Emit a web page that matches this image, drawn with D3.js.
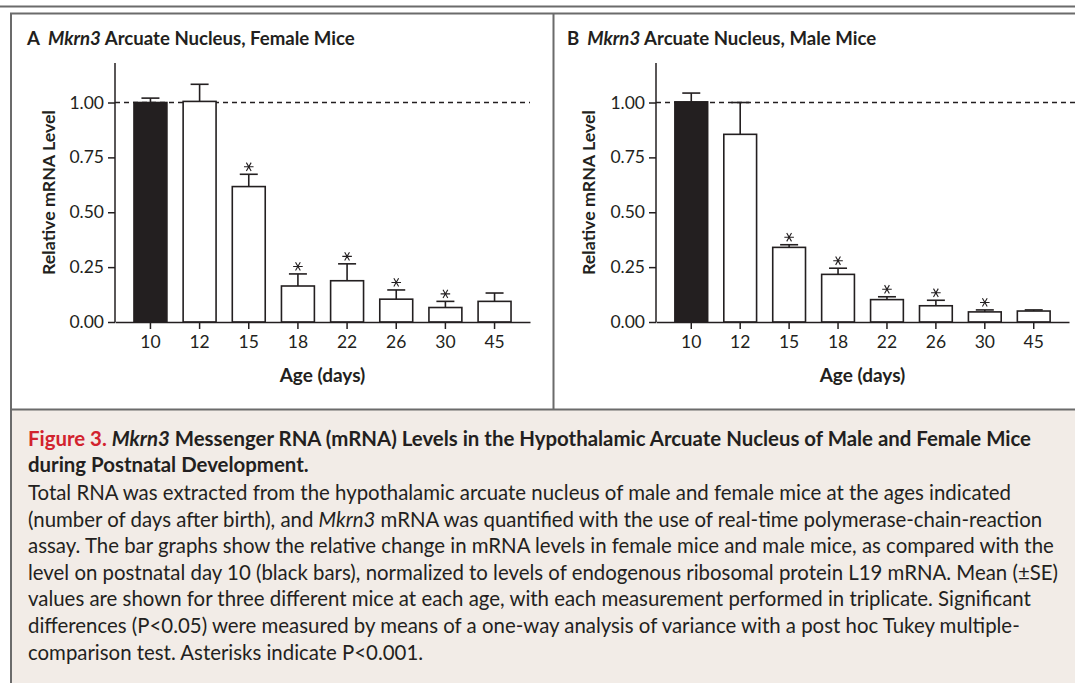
<!DOCTYPE html>
<html>
<head>
<meta charset="utf-8">
<script src="https://cdn.jsdelivr.net/npm/d3@7/dist/d3.min.js"></script>
<style>
  html, body { margin: 0; padding: 0; background: #ffffff; }
  svg { display: block; }
</style>
</head>
<body>
<svg id="chart" width="1075" height="683"></svg>
<script>
// ---------- data ----------
const ages = ["10", "12", "15", "18", "22", "26", "30", "45"];
const femaleMean = [1.000, 1.005, 0.617, 0.164, 0.188, 0.104, 0.066, 0.094];
const femaleSE   = [0.020, 0.078, 0.056, 0.055, 0.077, 0.042, 0.028, 0.038];
const femaleSig  = [false, false, true, true, true, true, true, false];
const maleMean   = [1.003, 0.855, 0.340, 0.217, 0.102, 0.074, 0.046, 0.050];
const maleSE     = [0.040, 0.145, 0.012, 0.028, 0.013, 0.025, 0.009, 0.005];
const maleSig    = [false, false, true, true, true, true, true, false];
const yTicks = [0, 0.25, 0.5, 0.75, 1.0];
const panelTitles = ["Arcuate Nucleus, Female Mice", "Arcuate Nucleus, Male Mice"];
const panelLetters = ["A", "B"];

// ---------- styles ----------
const FONT = "Lato, 'Open Sans', sans-serif";
const INK = "#231f20";
const FRAME = "#6b6b6b";

const svg = d3.select("#chart");
svg.append("rect").attr("x", 0).attr("y", 0).attr("width", 1075).attr("height", 683).attr("fill", "#ffffff");

// caption background
svg.append("rect").attr("x", 10).attr("y", 410).attr("width", 1065).attr("height", 273).attr("fill", "#f2ece7");

// frame
const frame = svg.append("g").attr("stroke", FRAME).attr("fill", "none");
frame.append("line").attr("x1", 0).attr("x2", 1075).attr("y1", 6.5).attr("y2", 6.5).attr("stroke-width", 2.2);
frame.append("line").attr("x1", 10).attr("x2", 1075).attr("y1", 13.5).attr("y2", 13.5).attr("stroke-width", 2);
frame.append("line").attr("x1", 11).attr("x2", 11).attr("y1", 13).attr("y2", 683).attr("stroke-width", 2);
frame.append("line").attr("x1", 553.5).attr("x2", 553.5).attr("y1", 13).attr("y2", 410).attr("stroke-width", 2);
frame.append("line").attr("x1", 10).attr("x2", 1075).attr("y1", 409.5).attr("y2", 409.5).attr("stroke-width", 2);

// ---------- panels ----------
const panels = [
  { letter: panelLetters[0], title: panelTitles[0], mean: femaleMean, se: femaleSE, sig: femaleSig,
    x0: 115, x1: 530, dashEnd: 530, titleX: 27, yTitleX: 47.5 },
  { letter: panelLetters[1], title: panelTitles[1], mean: maleMean, se: maleSE, sig: maleSig,
    x0: 656, x1: 1069, dashEnd: 1075, titleX: 567, yTitleX: 588 }
];

const y = d3.scaleLinear().domain([0, 1.18]).range([322, 63]);
const star = d3.symbol().type(d3.symbolAsterisk).size(64);

panels.forEach(p => {
  const g = svg.append("g");
  const x = d3.scaleBand().domain(ages).range([p.x0, p.x1]).paddingInner(0.33).paddingOuter(0.386);

  // title
  const t = g.append("text").attr("x", p.titleX).attr("y", 45)
    .attr("font-family", FONT).attr("font-size", 18.6).attr("font-weight", "bold").attr("fill", INK);
  t.append("tspan").text(p.letter);
  t.append("tspan").attr("dx", 8).attr("font-style", "italic").text("Mkrn3");
  t.append("tspan").text(" " + p.title);

  // reference dashed line at 1.00
  g.append("line").attr("x1", p.x0).attr("x2", p.dashEnd).attr("y1", y(1)).attr("y2", y(1))
    .attr("stroke", INK).attr("stroke-width", 1.3).attr("stroke-dasharray", "5,4");

  // error bars
  const eb = g.append("g").attr("stroke", INK).attr("stroke-width", 1.6);
  ages.forEach((a, i) => {
    const cx = x(a) + x.bandwidth() / 2;
    const top = y(p.mean[i] + p.se[i]);
    eb.append("line").attr("x1", cx).attr("x2", cx).attr("y1", y(p.mean[i])).attr("y2", top);
    eb.append("line").attr("x1", cx - 9).attr("x2", cx + 9).attr("y1", top).attr("y2", top);
  });

  // bars
  g.append("g").selectAll("rect").data(ages).join("rect")
    .attr("x", d => x(d))
    .attr("y", (d, i) => y(p.mean[i]))
    .attr("width", x.bandwidth())
    .attr("height", (d, i) => y(0) - y(p.mean[i]))
    .attr("fill", (d, i) => i === 0 ? INK : "#ffffff")
    .attr("stroke", INK).attr("stroke-width", 1.6);

  // asterisks
  g.append("g").selectAll("path").data(ages.filter((d, i) => p.sig[i])).join("path")
    .attr("transform", d => {
      const i = ages.indexOf(d);
      return `translate(${x(d) + x.bandwidth() / 2},${y(p.mean[i] + p.se[i]) - 7.5}) rotate(90)`;
    })
    .attr("d", star).attr("fill", "none").attr("stroke", INK).attr("stroke-width", 1.1);

  // axes
  const yAxis = g.append("g").attr("transform", `translate(${p.x0},0)`)
    .call(d3.axisLeft(y).tickValues(yTicks).tickFormat(d3.format(".2f")).tickSize(7).tickSizeOuter(0).tickPadding(4));
  const xAxis = g.append("g").attr("transform", `translate(0,${y(0)})`)
    .call(d3.axisBottom(x).tickSize(7).tickSizeOuter(0).tickPadding(7));
  [yAxis, xAxis].forEach(ax => {
    ax.selectAll("path, line").attr("stroke", INK).attr("stroke-width", 1.5);
    ax.selectAll("text").attr("font-family", FONT).attr("font-size", 17.5).attr("fill", INK);
  });
  // extend y axis line to top of domain
  yAxis.select("path.domain").attr("d", `M0,${y(0)}V${y(1.18)}`);

  // axis titles
  g.append("text").attr("x", (p.x0 + p.x1) / 2).attr("y", 382).attr("text-anchor", "middle")
    .attr("font-family", FONT).attr("font-size", 19).attr("font-weight", "bold").attr("fill", INK)
    .text("Age (days)");
  g.append("text").attr("transform", `translate(${p.yTitleX},${(y(0) + y(1.18)) / 2}) rotate(-90)`)
    .attr("text-anchor", "middle").attr("dominant-baseline", "central")
    .attr("font-family", FONT).attr("font-size", 17.8).attr("font-weight", "bold").attr("fill", INK)
    .text("Relative mRNA Level");
});

// ---------- caption ----------
const capTitle = [
  [{ t: "Figure 3. ", c: "#d2232e" }, { t: "Mkrn3", i: true }, { t: " Messenger RNA (mRNA) Levels in the Hypothalamic Arcuate Nucleus of Male and Female Mice" }],
  [{ t: "during Postnatal Development." }]
];
const capBody = [
  [{ t: "Total RNA was extracted from the hypothalamic arcuate nucleus of male and female mice at the ages indicated" }],
  [{ t: "(number of days after birth), and " }, { t: "Mkrn3", i: true }, { t: " mRNA was quantified with the use of real-time polymerase-chain-reaction" }],
  [{ t: "assay. The bar graphs show the relative change in mRNA levels in female mice and male mice, as compared with the" }],
  [{ t: "level on postnatal day 10 (black bars), normalized to levels of endogenous ribosomal protein L19 mRNA. Mean (±SE)" }],
  [{ t: "values are shown for three different mice at each age, with each measurement performed in triplicate. Significant" }],
  [{ t: "differences (P<0.05) were measured by means of a one-way analysis of variance with a post hoc Tukey multiple-" }],
  [{ t: "comparison test. Asterisks indicate P<0.001." }]
];
function writeLine(parts, xPos, yPos, bold, size) {
  const txt = svg.append("text").attr("x", xPos).attr("y", yPos)
    .attr("font-family", FONT).attr("font-size", size).attr("fill", INK)
    .attr("font-weight", bold ? "bold" : "normal");
  parts.forEach(pt => {
    const s = txt.append("tspan").text(pt.t);
    if (pt.c) s.attr("fill", pt.c);
    if (pt.i) s.attr("font-style", "italic");
  });
}
capTitle.forEach((ln, k) => writeLine(ln, 28, 446 + k * 25.5, true, 20.4));
capBody.forEach((ln, k) => writeLine(ln, 28, 500 + k * 26.6, false, 20.4));
</script>
</body>
</html>
